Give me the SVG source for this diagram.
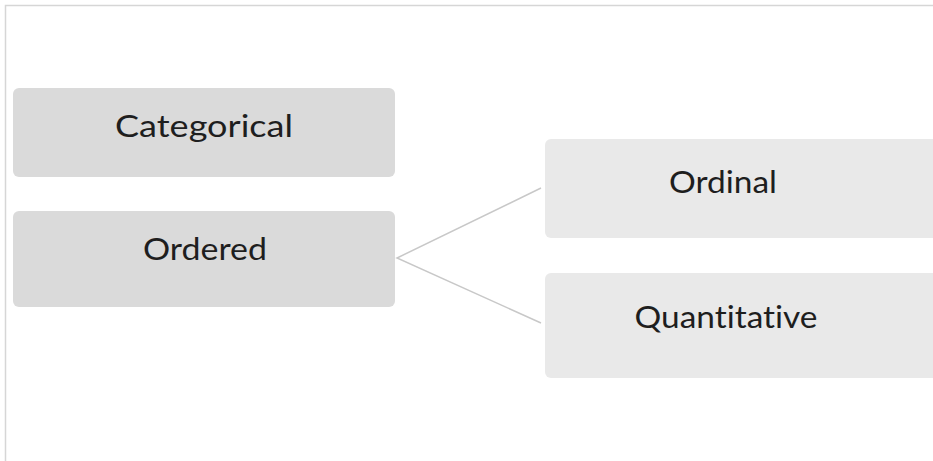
<svg xmlns="http://www.w3.org/2000/svg" width="933" height="461" viewBox="0 0 933 461">
<style>
.l{fill:#dadada}
.r{fill:#e9e9e9}
text{font-family:Lato,"Open Sans",sans-serif;font-size:31px;fill:#1e1e1e;text-anchor:middle;font-variant-ligatures:none;font-feature-settings:"liga" 0}
.c{stroke:#c8c8c8;stroke-width:1.5;fill:none}
</style>
<rect x="0" y="0" width="933" height="461" fill="#fff"/>
<path d="M5.5 461V5.5H933" stroke="#d6d6d6" stroke-width="1.5" fill="none"/>
<g id="connectors">
<path class="c" d="M541 188L397 258L541 323"/>
</g>
<g id="categorical">
<rect class="l" x="13" y="88" width="382" height="89" rx="6"/>
<text x="204" y="137" textLength="178" lengthAdjust="spacingAndGlyphs">Categorical</text>
</g>
<g id="ordered">
<rect class="l" x="13" y="211" width="382" height="96" rx="6"/>
<text x="205" y="260" textLength="124" lengthAdjust="spacingAndGlyphs">Ordered</text>
</g>
<g id="ordinal">
<rect class="r" x="545" y="139" width="400" height="99" rx="6"/>
<text x="723" y="193" textLength="108" lengthAdjust="spacingAndGlyphs">Ordinal</text>
</g>
<g id="quantitative">
<rect class="r" x="545" y="273" width="400" height="105" rx="6"/>
<text x="726" y="328" textLength="183" lengthAdjust="spacingAndGlyphs">Quantitative</text>
</g>
</svg>
